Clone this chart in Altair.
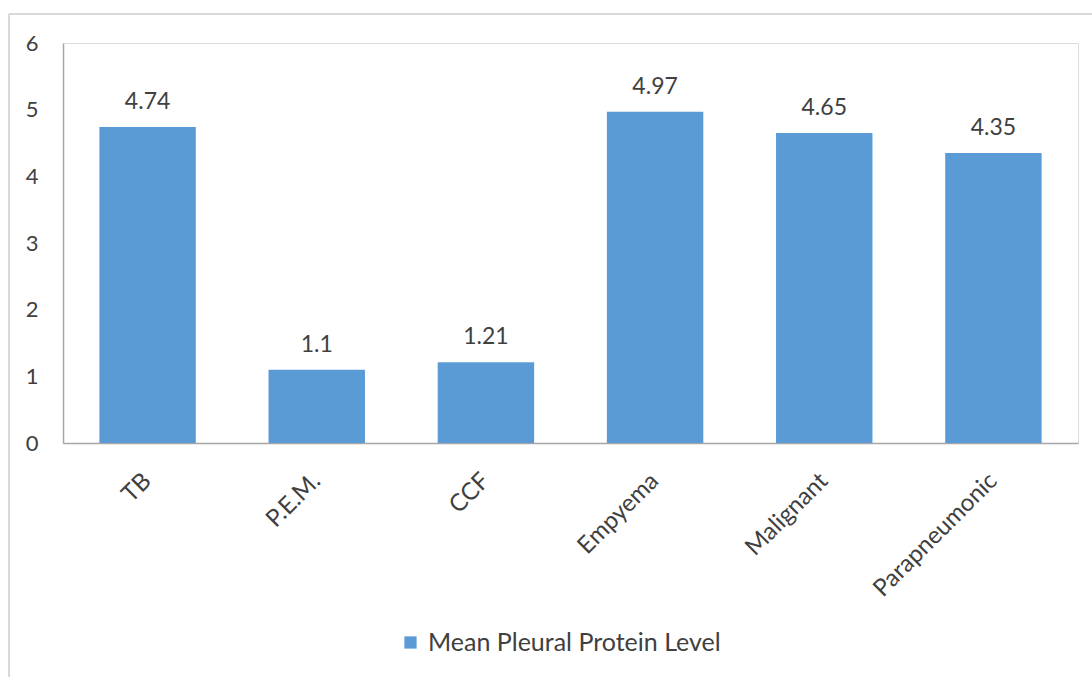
import altair as alt
import pandas as pd

# Mean pleural protein level by diagnosis
categories = ["TB", "P.E.M.", "CCF", "Empyema", "Malignant", "Parapneumonic"]
values = [4.74, 1.1, 1.21, 4.97, 4.65, 4.35]
series_name = "Mean Pleural Protein Level"
y_ticks = [0, 1, 2, 3, 4, 5, 6]

df = pd.DataFrame({"category": categories, "value": values, "series": series_name})

BAR = "#5B9BD5"
TEXT = "#404040"
FONT = "Lato"

x_enc = alt.X(
    "category:N",
    sort=categories,
    scale=alt.Scale(paddingInner=0.43, paddingOuter=0.215),
    axis=alt.Axis(
        title=None,
        labelAngle=-45,
        labelAlign="right",
        labelBaseline="middle",
        labelPadding=34,
        labelFontSize=24,
        labelColor=TEXT,
        labelFont=FONT,
        labelLimit=300,
        ticks=False,
        domainColor="#A6A6A6",
        domainWidth=1.5,
    ),
)
y_enc = alt.Y(
    "value:Q",
    scale=alt.Scale(domain=[0, 6], nice=False),
    axis=alt.Axis(
        title=None,
        values=y_ticks,
        format="d",
        grid=False,
        ticks=False,
        labelPadding=25,
        labelFontSize=22,
        labelColor=TEXT,
        labelFont=FONT,
        domainColor="#A6A6A6",
        domainWidth=1.5,
    ),
)

bars = alt.Chart(df).mark_bar(color=BAR).encode(
    x=x_enc,
    y=y_enc,
    color=alt.Color(
        "series:N",
        scale=alt.Scale(range=[BAR]),
        legend=alt.Legend(
            title=None,
            orient="none",
            legendX=335,
            legendY=587,
            symbolType="square",
            symbolSize=150,
            symbolStrokeWidth=0,
            labelFontSize=25,
            labelFont=FONT,
            labelColor=TEXT,
            labelOffset=5,
            labelLimit=400,
        ),
    ),
)

labels = alt.Chart(df).mark_text(
    baseline="alphabetic", dy=-18, fontSize=23, font=FONT, color=TEXT
).encode(
    x=alt.X("category:N", sort=categories),
    y="value:Q",
    text=alt.Text("value:Q"),
)

# light outline around the chart area (top and left edges)
frame_top = alt.Chart(df).mark_rule(color="#D9D9D9", strokeWidth=1.5).encode(
    x=alt.value(-54), x2=alt.value(1029), y=alt.value(-29)
)
frame_left = alt.Chart(df).mark_rule(color="#D9D9D9", strokeWidth=1.5).encode(
    x=alt.value(-54), y=alt.value(-29), y2=alt.value(634)
)

chart = (
    alt.layer(frame_top, frame_left, bars, labels)
    .properties(
        width=1015,
        height=400,
        autosize=alt.AutoSizeParams(type="none"),
        padding={"left": 63, "top": 43, "right": 14, "bottom": 234},
    )
    .configure_view(stroke=None)
    .configure(background="white")
)

chart.save("out.html", embed_options={"renderer": "svg", "actions": False})
